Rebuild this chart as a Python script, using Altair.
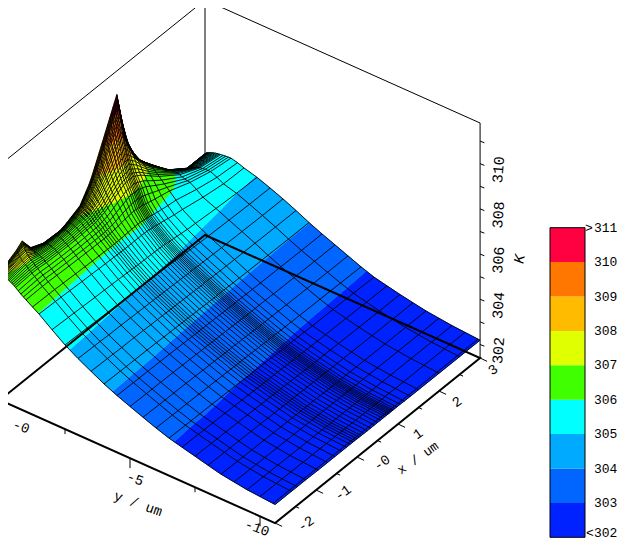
import altair as alt
import numpy as np
import pandas as pd

# ---- surface values (K); rows follow y_nodes, columns follow x_nodes
x_nodes = [-2, -1.7, -1.46, -1.25, -.95, -.5, -.05, .2, .45, .65, .85, 1.05, 1.25, 1.6, 2.05, 2.5, 2.75, 3]
y_nodes = [0, -.1, -.2, -.37, -.53, -.8, -1.06, -1.6, -2.1, -2.65, -3.2, -4.2, -5.3, -6.35, -7.4, -8.45, -9.5, -10.58]
z_row_0 = [307.05,307.30,307.65,307.05,306.80,306.75,307.15,307.85,308.95,309.85,310.75,308.50,307.40,306.60,305.65,305.00,304.70,305.00]
z_row_1 = [307.00,307.20,307.35,307.00,306.85,306.85,307.10,307.65,308.50,309.30,310.00,308.40,307.40,306.60,305.70,305.10,304.85,305.10]
z_row_2 = [306.95,307.10,307.15,306.95,306.88,306.90,307.05,307.45,308.10,308.75,309.20,308.20,307.40,306.60,305.75,305.20,305.00,305.15]
z_row_3 = [306.85,306.95,306.97,306.87,306.82,306.85,306.95,307.20,307.65,308.05,308.20,307.80,307.25,306.55,305.80,305.30,305.20,305.22]
z_row_4 = [306.75,306.80,306.80,306.75,306.72,306.72,306.78,306.95,307.30,307.55,307.60,307.35,307.00,306.40,305.80,305.40,305.30,305.26]
z_row_5 = [306.50,306.55,306.55,306.52,306.50,306.48,306.50,306.60,306.80,306.95,306.95,306.80,306.55,306.15,305.70,305.45,305.40,305.30]
z_row_6 = [306.30,306.30,306.30,306.28,306.25,306.22,306.20,306.22,306.28,306.28,306.20,306.10,306.05,305.97,305.65,305.45,305.40,305.32]
z_row_7 = [305.90,305.88,305.85,305.83,305.80,305.76,305.72,305.70,305.70,305.68,305.62,305.55,305.45,305.35,305.20,305.10,305.10,305.10]
z_row_8 = [305.45,305.42,305.40,305.38,305.35,305.32,305.28,305.25,305.24,305.22,305.18,305.14,305.10,305.06,305.02,304.98,304.96,304.95]
z_row_9 = [305.00,304.98,304.97,304.95,304.93,304.90,304.88,304.86,304.84,304.82,304.80,304.78,304.76,304.74,304.72,304.70,304.70,304.70]
z_row_10 = [304.65,304.63,304.62,304.60,304.60,304.57,304.55,304.53,304.52,304.50,304.50,304.49,304.48,304.47,304.46,304.45,304.45,304.45]
z_row_11 = [304.05,304.04,304.03,304.03,304.02,304.00,303.98,303.97,303.96,303.95,303.95,303.94,303.93,303.92,303.91,303.90,303.90,303.90]
z_row_12 = [303.55,303.54,303.53,303.53,303.52,303.50,303.48,303.47,303.46,303.45,303.44,303.43,303.43,303.42,303.41,303.40,303.40,303.40]
z_row_13 = [303.10,303.09,303.08,303.08,303.07,303.05,303.03,303.02,303.01,303.00,302.99,302.98,302.97,302.96,302.95,302.94,302.93,302.92]
z_row_14 = [302.80,302.79,302.78,302.78,302.77,302.75,302.73,302.72,302.71,302.70,302.69,302.68,302.68,302.67,302.66,302.65,302.65,302.65]
z_row_15 = [302.50,302.49,302.48,302.48,302.47,302.46,302.45,302.45,302.44,302.44,302.43,302.43,302.43,302.42,302.42,302.42,302.42,302.42]
z_row_16 = [302.32,302.31,302.31,302.31,302.30,302.30,302.29,302.29,302.29,302.28,302.28,302.28,302.28,302.28,302.28,302.28,302.28,302.28]
z_row_17 = [302.22,302.22,302.22,302.22,302.21,302.21,302.21,302.20,302.20,302.20,302.20,302.20,302.19,302.19,302.19,302.19,302.19,302.19]
z_rows = [z_row_0, z_row_1, z_row_2, z_row_3, z_row_4, z_row_5, z_row_6, z_row_7, z_row_8,
          z_row_9, z_row_10, z_row_11, z_row_12, z_row_13, z_row_14, z_row_15, z_row_16, z_row_17]

# ---- mesh lines
mesh_x = [-2, -1.6, -1.46, -1.25, -.95, -.72, -.54, -.38, -.26, -.17, -.1, -.05, 0, .05, .1, .17, .25, .33, .42, .5, .57,
          .63, .68, .72, .76, .79, .82, .85, .88, .92, .97, 1.05, 1.15, 1.3, 1.5, 2, 2.5, 3]
mesh_y = [0, -.01, -.02, -.03, -.04, -.05, -.06, -.08, -.1, -.12, -.14, -.17, -.2, -.23, -.27, -.31, -.35, -.4, -.45, -.5,
          -.55, -.6, -.7, -.8, -.9, -1, -1.25, -1.5, -2, -2.5, -3, -3.5, -4, -4.5, -5, -5.5, -6, -6.5, -7, -7.5, -8, -8.5,
          -9, -9.5, -10, -10.5, -10.58]

# ---- colour bands
levels = [302, 303, 304, 305, 306, 307, 308, 309, 310, 311]
band_colors = ["#0022FF", "#0066FF", "#00AAFF", "#00FFFF", "#40FF00", "#E0FF00", "#FFBB00", "#FF7700", "#FF0040"]

# ---- axis ticks and text
x_major = [-2, -1, 0, 1, 2, 3]
x_minor = [-1.5, -.5, .5, 1.5, 2.5]
y_major = [0, -5, -10]
y_minor = [-2.5, -7.5]
z_ticks = [302, 303, 304, 305, 306, 307, 308, 309, 310, 311]
x_text = ["-2", "-1", "-0", "1", "2", "3"]
y_text = ["-0", "-5", "-10"]
z_labelled = [302, 304, 306, 308, 310]

FONT = "Liberation Mono"
X_MIN, X_MAX, Y_MIN, Y_MAX, Z_BASE, Z_TOP = -2.0, 3.0, -10.58, 0.0, 301.4, 311.8


def proj(x, y, z=Z_BASE):
    """Orthographic view of the box, in reference-picture pixels."""
    s = x - X_MIN
    t = -y
    return [round(41.0 * s + 26.0 * t, 2),
            round(400.0 + 11.63 * t - 33.0 * s - 22.6 * (z - Z_BASE), 2)]


Z = np.array(z_rows)
X_N = np.array(x_nodes)
Y_N = -np.array(y_nodes)
MX = np.array(mesh_x)
MY = -np.array(mesh_y)
# surface height at the mesh crossings, looked up in the table above
col = np.array([np.interp(MY, Y_N, Z[:, j]) for j in range(len(X_N))]).T
grid = np.array([np.interp(MX, X_N, r) for r in col])


def clip(poly, level, keep_above):
    out = []
    n = len(poly)
    for i in range(n):
        a, b = poly[i], poly[(i + 1) % n]
        ina = a[2] >= level if keep_above else a[2] <= level
        inb = b[2] >= level if keep_above else b[2] <= level
        if ina:
            out.append(a)
        if ina != inb:
            f = (level - a[2]) / (b[2] - a[2])
            out.append((a[0] + f * (b[0] - a[0]), a[1] + f * (b[1] - a[1]), level))
    return out


band_polys = [[] for _ in band_colors]
for i in range(len(MY) - 1):
    for j in range(len(MX) - 1):
        quad = [(MX[j], -MY[i], grid[i, j]), (MX[j + 1], -MY[i], grid[i, j + 1]),
                (MX[j + 1], -MY[i + 1], grid[i + 1, j + 1]), (MX[j], -MY[i + 1], grid[i + 1, j])]
        lo_z = min(q[2] for q in quad)
        hi_z = max(q[2] for q in quad)
        for b in range(len(band_colors)):
            lo = levels[b] if b > 0 else -1e9
            hi = levels[b + 1] if b < len(band_colors) - 1 else 1e9
            if hi_z < lo or lo_z > hi:
                continue
            p = clip(quad, lo, True)
            p = clip(p, hi, False) if p else []
            if len(p) >= 3:
                ring = [proj(*v) for v in p]
                ring.append(ring[0])
                band_polys[b].append([ring])

surface_features = [{"type": "Feature", "band": str(b),
                     "geometry": {"type": "MultiPolygon", "coordinates": band_polys[b]}}
                    for b in range(len(band_colors)) if band_polys[b]]

mesh_lines = []
for i in range(len(MY)):
    mesh_lines.append([proj(MX[j], -MY[i], grid[i, j]) for j in range(len(MX))])
for j in range(len(MX)):
    mesh_lines.append([proj(MX[j], -MY[i], grid[i, j]) for i in range(len(MY))])


def lines_feature(lines):
    return {"type": "Feature", "geometry": {"type": "MultiLineString", "coordinates": lines}}


# thin frame and ticks
frame = [
    [proj(X_MIN, 0, Z_BASE), proj(X_MIN, 0, Z_TOP), proj(X_MAX, 0, Z_TOP), proj(X_MAX, Y_MIN, Z_TOP), proj(X_MAX, Y_MIN, Z_BASE)],
    [proj(X_MAX, 0, Z_BASE), proj(X_MAX, 0, Z_TOP)],
]
ticks = []
for v in x_major:
    p = proj(v, Y_MIN)
    ticks.append([p, [p[0] + 7, p[1] + 3.3]])
for v in x_minor:
    p = proj(v, Y_MIN)
    ticks.append([p, [p[0] + 3.5, p[1] + 1.6]])
for v in y_major:
    p = proj(X_MIN, v)
    ticks.append([p, [p[0], p[1] + 10]])
for v in y_minor:
    p = proj(X_MIN, v)
    ticks.append([p, [p[0], p[1] + 5]])
for v in z_ticks:
    p = proj(X_MAX, Y_MIN, v)
    ticks.append([p, [p[0] + 4.3, p[1] + 1.7]])
floor = [[proj(X_MIN, 0), proj(X_MIN, Y_MIN), proj(X_MAX, Y_MIN), proj(X_MAX, 0), proj(X_MIN, 0)]]

projection = alt.Projection(type="identity", scale=1, translate=[-8, -8])


def geo(features, **kw):
    return alt.Chart(alt.InlineData(values=features)).mark_geoshape(**kw).project(**projection.to_dict())


W, H = 609, 532
sx = alt.Scale(domain=[8, 617], range=[0, W], zero=False, nice=False)
sy = alt.Scale(domain=[540, 8], range=[H, 0], zero=False, nice=False)

frame_layer = geo([lines_feature(frame)], filled=False, stroke="black", strokeWidth=1)
band_scale = alt.Scale(domain=[str(i) for i in range(len(band_colors))], range=band_colors)
surface_layer = geo(surface_features, strokeWidth=0.5).encode(
    color=alt.Color("band:N", scale=band_scale, legend=None),
    stroke=alt.Stroke("band:N", scale=band_scale, legend=None),
)
mesh_layer = geo([lines_feature(mesh_lines)], filled=False, stroke="black", strokeWidth=0.9)
tick_layer = geo([lines_feature(ticks)], filled=False, stroke="black", strokeWidth=1)
floor_layer = geo([lines_feature(floor)], filled=False, stroke="black", strokeWidth=2)


def texts(labels, positions, angle, size=14):
    df = pd.DataFrame({"t": labels, "px": [p[0] for p in positions], "py": [p[1] for p in positions]})
    return alt.Chart(df).mark_text(font=FONT, fontSize=size, angle=angle, color="black",
                                   align="center", baseline="middle").encode(
        x=alt.X("px:Q", scale=sx, axis=None),
        y=alt.Y("py:Q", scale=sy, axis=None),
        text="t:N",
    )


def offset(points, dxs, dys):
    return [[p[0] + dx, p[1] + dy] for p, dx, dy in zip(points, dxs, dys)]


x_pos = offset([proj(v, Y_MIN) for v in x_major], [31, 27, 25, 20, 18, 13], [1, 3, 6, 10, 11, 12])
y_pos = offset([proj(X_MIN, v) for v in y_major], [21, 5, -3], [27, 21, 12])
z_pos = offset([proj(X_MAX, Y_MIN, v) for v in z_labelled], [18] * 5, [6, 6, 6, 6, 6])

x_labels = texts(x_text, x_pos, 325, 14)
y_labels = texts(y_text, y_pos, 20, 14)
z_labels = texts([str(v) for v in z_labelled], z_pos, 275, 15)
x_title = texts(["x / um"], [[418, 458]], 325, 13)
y_title = texts(["y / um"], [[138, 504]], 20, 14)
z_title = alt.Chart(pd.DataFrame({"t": ["K"], "px": [519], "py": [259]})).mark_text(
    font=FONT, fontSize=15, fontStyle="italic", angle=280, color="black").encode(
    x=alt.X("px:Q", scale=sx, axis=None), y=alt.Y("py:Q", scale=sy, axis=None), text="t:N")

# ---- colour bar, on its own scale in kelvin
BAR_BOTTOM, BAR_K = 537.3, 34.4
bar_scale = alt.Scale(domain=[302 + (BAR_BOTTOM - 540) / BAR_K, 302 + (BAR_BOTTOM - 8) / BAR_K],
                      range=[H, 0], zero=False, nice=False)
bar_df = pd.DataFrame({"lo": levels[:-1], "hi": levels[1:], "band": [str(i) for i in range(9)],
                       "l": [550] * 9, "r": [585] * 9})
bar = alt.Chart(bar_df).mark_rect().encode(
    x=alt.X("l:Q", scale=sx, axis=None), x2="r:Q",
    y=alt.Y("lo:Q", scale=bar_scale, axis=None), y2="hi:Q",
    color=alt.Color("band:N", scale=band_scale, legend=None),
)
bar_box = alt.Chart(pd.DataFrame({"lo": [302], "hi": [311], "l": [550], "r": [585]})).mark_rect(
    fillOpacity=0, stroke="black", strokeWidth=1).encode(
    x=alt.X("l:Q", scale=sx, axis=None), x2="r:Q",
    y=alt.Y("lo:Q", scale=bar_scale, axis=None), y2="hi:Q",
)


def bar_labels(values, texts_, xs, align, dy=0):
    df = pd.DataFrame({"z": values, "t": texts_, "px": xs})
    return alt.Chart(df).mark_text(font=FONT, fontSize=13, align=align, baseline="middle",
                                   color="black", dy=dy).encode(
        x=alt.X("px:Q", scale=sx, axis=None),
        y=alt.Y("z:Q", scale=bar_scale, axis=None),
        text="t:N",
    )


bar_text = bar_labels(levels[1:], [str(v) for v in levels[1:]], [594] * 9, "left")
bar_low = bar_labels(levels[:1], [str(levels[0])], [594], "left", dy=-4)
bar_up = bar_labels([311], [">"], [589], "center")
bar_down = bar_labels([302], ["<"], [590], "center", dy=-4)

chart = alt.layer(
    frame_layer, surface_layer, mesh_layer, tick_layer, floor_layer,
    x_labels, y_labels, z_labels, x_title, y_title, z_title,
    bar, bar_box, bar_text, bar_low, bar_up, bar_down,
).resolve_scale(y="independent", x="shared", color="independent", stroke="independent").properties(
    width=W, height=H, padding=0, background="white",
    autosize=alt.AutoSizeParams(type="none"),
).configure_view(stroke=None)

chart.save("out.html", embed_options={"renderer": "svg", "actions": False})
